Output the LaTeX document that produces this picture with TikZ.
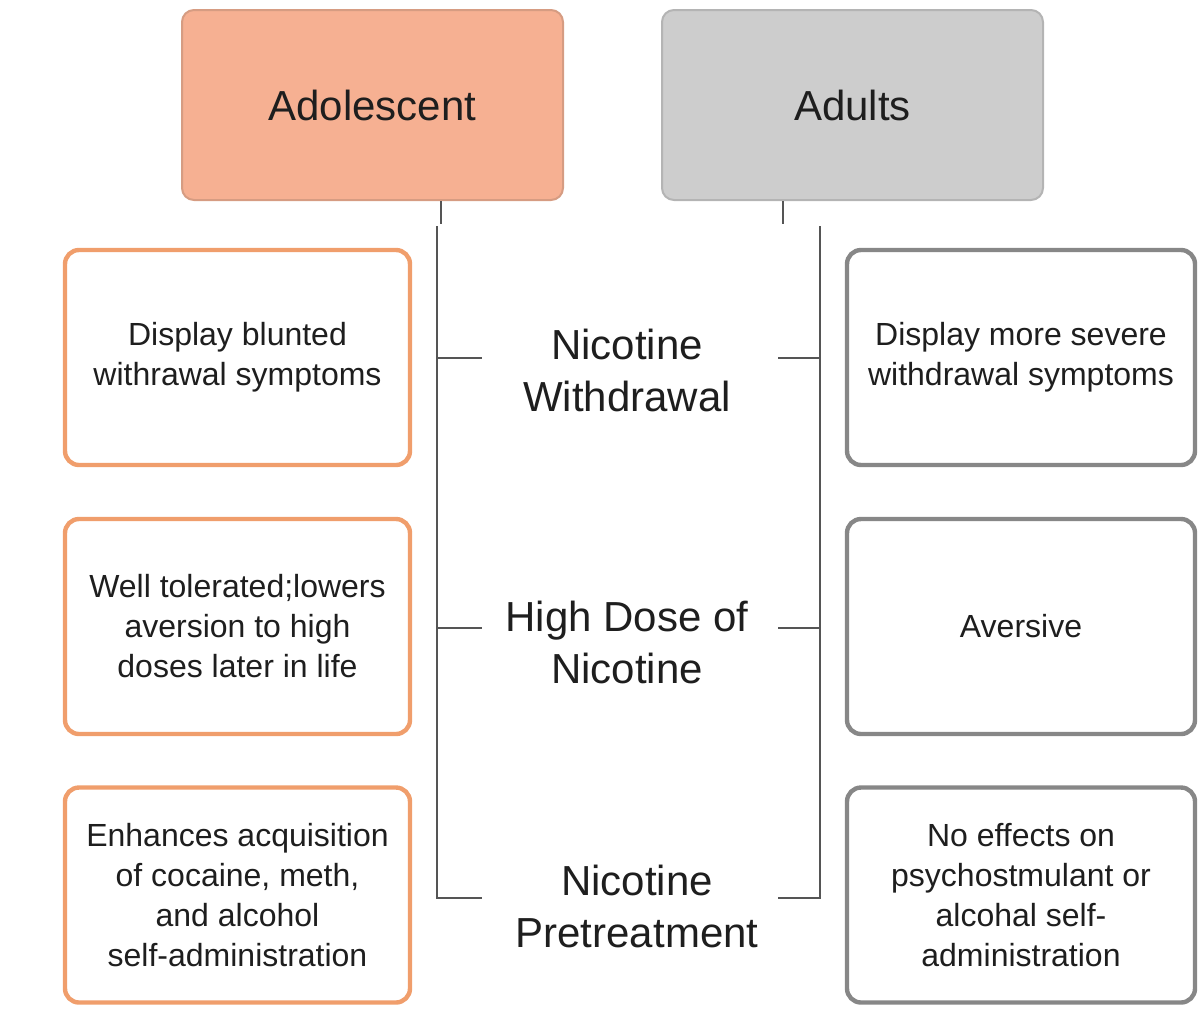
\documentclass[tikz,border=0pt]{standalone}
\usepackage{fontspec}
\setmainfont{Liberation Sans}
\usetikzlibrary{positioning}
\definecolor{adolFill}{RGB}{246,176,146}
\definecolor{adolEdge}{RGB}{214,156,130}
\definecolor{adolLine}{RGB}{240,158,108}
\definecolor{adultFill}{RGB}{205,205,205}
\definecolor{adultEdge}{RGB}{180,180,180}
\definecolor{adultLine}{RGB}{135,135,135}
\definecolor{treeLine}{RGB}{85,85,85}
\definecolor{inkText}{RGB}{30,30,30}
\tikzset{
  %% Group headers
  cmpHeadA/.style={draw=adolEdge, fill=adolFill, line width=1pt, rounded corners=6pt,
    minimum width=190.5pt, minimum height=95pt, inner sep=0pt,
    font=\fontsize{21}{26}\selectfont, text=inkText},
  cmpHeadB/.style={cmpHeadA, draw=adultEdge, fill=adultFill},
  %% Finding boxes
  cmpBoxA/.style={draw=adolLine, fill=white, line width=2.2pt, rounded corners=7pt,
    minimum width=172.5pt, minimum height=107.5pt, inner sep=0pt,
    font=\fontsize{16}{20}\selectfont, align=center, text=inkText},
  cmpBoxB/.style={cmpBoxA, draw=adultLine, minimum width=174pt},
  %% Row labels
  cmpLabel/.style={font=\fontsize{21}{26}\selectfont, align=center, text=inkText},
  %% Tree lines
  cmpLine/.style={draw=treeLine, line width=1pt},
}
\begin{document}
\begin{tikzpicture}[x=0.5pt, y=-0.5pt]
\useasboundingbox (0,0) rectangle (1203,1029);

%% Headers
\node[cmpHeadA] (hAdol)  at (372.5,105) {Adolescent};
\node[cmpHeadB] (hAdult) at (852.5,105) {Adults};

%% Row labels
\node[cmpLabel] (mWithdraw) at (627,370) {Nicotine\\Withdrawal};
\node[cmpLabel] (mHighDose) at (627,642) {High Dose of\\Nicotine};
\node[cmpLabel] (mPretreat) at (637,906) {Nicotine\\Pretreatment};

%% Adolescent findings
\node[cmpBoxA] (aWithdraw) at (237.5,357.5) {Display blunted\\withrawal symptoms};
\node[cmpBoxA] (aHighDose) at (237.5,626.5) {Well tolerated;lowers\\aversion to high\\doses later in life};
\node[cmpBoxA] (aPretreat) at (237.5,895) {Enhances acquisition\\of cocaine, meth,\\and alcohol\\self-administration};

%% Adult findings
\node[cmpBoxB] (bWithdraw) at (1021,357.5) {Display more severe\\withdrawal symptoms};
\node[cmpBoxB] (bHighDose) at (1021,626.5) {Aversive};
\node[cmpBoxB] (bPretreat) at (1021,895) {No effects on\\psychostmulant or\\alcohal self-\\administration};

%% Tree
\coordinate (lStub) at (441,224);
\coordinate (rStub) at (783,224);
\coordinate (lTop) at (437,226);
\coordinate (rTop) at (820,226);
\foreach \n/\y in {1/358, 2/628, 3/898} {
  \coordinate (lT\n) at (437,\y);
  \coordinate (rT\n) at (820,\y);
}
\draw[cmpLine] (hAdol.south -| lStub) -- (lStub);
\draw[cmpLine] (hAdult.south -| rStub) -- (rStub);
\draw[cmpLine] (lTop) -- (lT3) -- ++(45,0);
\draw[cmpLine] (rTop) -- (rT3) -- ++(-42,0);
\foreach \n in {1,2} {
  \draw[cmpLine] (lT\n) -- ++(45,0);
  \draw[cmpLine] (rT\n) -- ++(-42,0);
}

\end{tikzpicture}
\end{document}
